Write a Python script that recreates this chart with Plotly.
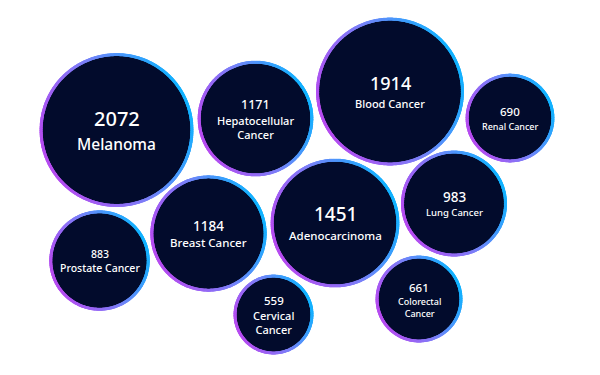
import numpy as np
import plotly.graph_objects as go

# ---- data ----
labels = ["Melanoma", "Blood Cancer", "Adenocarcinoma", "Breast Cancer", "Hepatocellular<br>Cancer",
          "Lung Cancer", "Prostate Cancer", "Renal Cancer", "Colorectal<br>Cancer", "Cervical<br>Cancer"]
values = [2072, 1914, 1451, 1184, 1171, 983, 883, 690, 661, 559]

# ---- layout (packed bubble centres, in pixels) ----
cx = [116.5, 390, 335, 208.5, 255.5, 454, 99.5, 510, 419, 273.5]
cy = [130, 91.5, 223, 233.5, 118.5, 203.5, 260.5, 118, 299, 314.5]
num_size = [20, 18, 19, 13.5, 12.5, 13.5, 10.5, 11.5, 11.5, 11.5]
lab_size = [15.5, 11, 11.5, 11.5, 11, 9.5, 10.5, 9, 9, 11]

K = 1.69  # px per sqrt(value)
FILL = "#020b2c"
PURPLE = "#b64cf0"
BLUE = "#12b2ff"
PHI = np.deg2rad(25)
OFF = 8  # page body margin
FONT = "Noto Sans, Open Sans, sans-serif"

fig = go.Figure()
shapes = []
annotations = []
rx, ry, rc = [], [], []
for i, v in enumerate(values):
    r = K * np.sqrt(v)
    shapes.append(dict(type="circle", xref="x", yref="y", layer="below",
                       x0=cx[i] - r + 1, x1=cx[i] + r - 1, y0=cy[i] - r + 1, y1=cy[i] + r - 1,
                       fillcolor=FILL, line=dict(width=0)))
    n = int(2 * np.pi * r * 1.5)
    th = np.linspace(0, 2 * np.pi, n, endpoint=False)
    rr = r - 1.5
    rx.extend(cx[i] + rr * np.cos(th))
    ry.extend(cy[i] - rr * np.sin(th))
    rc.extend((1 + np.cos(th - PHI)) / 2)

    nlines = labels[i].count("<br>") + 1
    ns, ls = num_size[i], lab_size[i]
    gap = 0.25 * ns
    H = ns + gap + nlines * ls * 1.25
    top = cy[i] - H / 2 + 1
    annotations.append(dict(x=cx[i], y=top + ns * 0.5, xref="x", yref="y", text=str(v),
                            showarrow=False, xanchor="center", yanchor="middle",
                            font=dict(family=FONT, size=ns, color="white", weight=500)))
    annotations.append(dict(x=cx[i], y=top + ns + gap + nlines * ls * 1.25 / 2, xref="x", yref="y",
                            text=labels[i], showarrow=False, xanchor="center", yanchor="middle",
                            font=dict(family=FONT, size=ls, color="white", weight=500)))

fig.add_trace(go.Scatter(x=rx, y=ry, mode="markers", hoverinfo="skip",
                         marker=dict(size=3.0, color=rc, colorscale=[[0, PURPLE], [0.5, "#7a80f8"], [1, BLUE]],
                                     cmin=0, cmax=1, line=dict(width=0))))

fig.update_layout(
    width=600 - OFF, height=375 - OFF, margin=dict(l=0, r=0, t=0, b=0),
    paper_bgcolor="white", plot_bgcolor="white", showlegend=False,
    xaxis=dict(range=[OFF, 600], visible=False, fixedrange=True),
    yaxis=dict(range=[375, OFF], visible=False, fixedrange=True),
    shapes=shapes, annotations=annotations,
)
fig.write_html("out.html")
